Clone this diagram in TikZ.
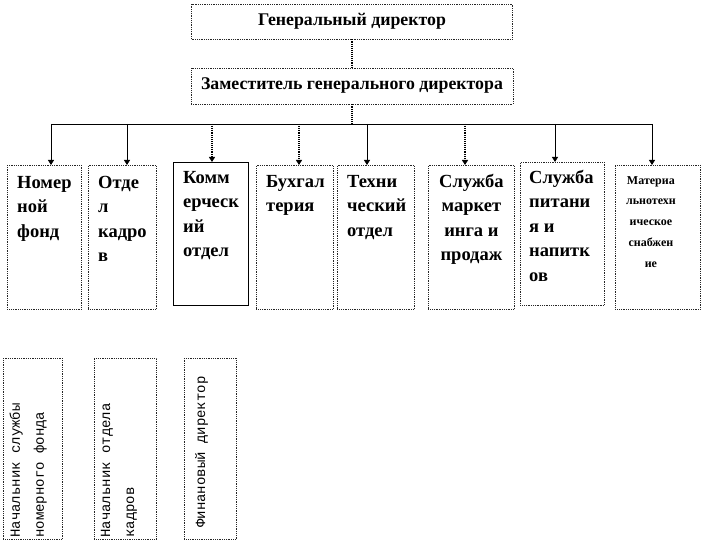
\documentclass[tikz,border=0pt]{standalone}
\usepackage{fontspec}
\setmainfont{Liberation Serif}
\setmonofont{Liberation Mono}
\usetikzlibrary{arrows.meta}
\tikzset{
  frame/.style={draw=black!85, line width=0.8pt, densely dotted, inner sep=0pt, anchor=north west},
  solidframe/.style={draw=black, line width=0.8pt, inner sep=0pt, anchor=north west},
  topbox/.style={draw=black!85, line width=0.8pt, densely dotted, inner sep=0pt,
    font=\fontsize{17.8}{22}\selectfont\bfseries},
  big/.style={font=\fontsize{18.5}{24.5}\selectfont\bfseries, inner sep=0pt, align=left, anchor=north west},
  bigc/.style={font=\fontsize{18.5}{24.5}\selectfont\bfseries, inner sep=0pt, align=center, anchor=north},
  smallc/.style={font=\fontsize{12}{20.75}\selectfont\bfseries, inner sep=0pt, align=center, anchor=north},
  rot/.style={rotate=90, font=\fontsize{14}{24}\selectfont\ttfamily, inner sep=0pt, align=left, anchor=north west},
  link/.style={line width=0.9pt, -{Triangle[width=6pt,length=5pt]}},
  dlink/.style={link, densely dotted, line width=1.1pt},
  dline/.style={densely dotted, line width=1.1pt},
  bus/.style={line width=0.9pt},
}
\begin{document}
\begin{tikzpicture}[x=1pt,y=-1pt]
\useasboundingbox (0,0) rectangle (702,540);

% top boxes
\node[topbox, minimum width=321pt, minimum height=35pt] (gd) at (352,21.5) {Генеральный директор};
\node[topbox, minimum width=322pt, minimum height=36pt] (zam) at (352,86) {Заместитель генерального директора};

% department boxes
\node[frame, minimum width=74pt, minimum height=144pt] (n1) at (7,165) {};
\node[frame, minimum width=68pt, minimum height=144pt] (n2) at (88,165) {};
\node[solidframe, minimum width=75pt, minimum height=143pt] (n3) at (173,162) {};
\node[frame, minimum width=77pt, minimum height=144pt] (n4) at (256,165) {};
\node[frame, minimum width=77pt, minimum height=144pt] (n5) at (337,165) {};
\node[frame, minimum width=86pt, minimum height=144pt] (n6) at (428,165) {};
\node[frame, minimum width=84pt, minimum height=143pt] (n7) at (520,162) {};
\node[frame, minimum width=85pt, minimum height=144pt] (n8) at (615,165) {};

\node[big] (t1) at ([xshift=10pt,yshift=-5.85pt]n1.north west) {\strut Номер\\ной\\фонд};
\node[big] (t2) at ([xshift=10pt,yshift=-5.85pt]n2.north west) {\strut Отде\\л\\кадро\\в};
\node[big] (t3) at ([xshift=10pt,yshift=-3.85pt]n3.north west) {\strut Комм\\ерческ\\ий\\отдел};
\node[big] (t4) at ([xshift=10pt,yshift=-4.85pt]n4.north west) {\strut Бухгал\\терия};
\node[big] (t5) at ([xshift=10pt,yshift=-4.85pt]n5.north west) {\strut Техни\\ческий\\отдел};
\node[bigc] (t6) at ([yshift=-4.85pt]n6.north) {\strut Служба\\маркет\\инга и\\продаж};
\node[big] (t7) at ([xshift=9pt,yshift=-3.85pt]n7.north west) {\strut Служба\\питани\\я и\\напитк\\ов};
\node[smallc] (t8) at ([xshift=-7pt,yshift=-4.5pt]n8.north) {\strut Материа\\льнотехн\\ическое\\снабжен\\ие};

% bottom boxes
\node[frame, minimum width=59pt, minimum height=181pt] (b1) at (3,358) {};
\node[frame, minimum width=62pt, minimum height=181pt] (b2) at (94,358) {};
\node[frame, minimum width=52pt, minimum height=181pt] (b3) at (184,358) {};

\node[rot] (r1) at ([xshift=6.5pt,yshift=2pt]b1.south west) {\rule{0pt}{10pt}Начальник службы\\номерного фонда};
\node[rot] (r2) at ([xshift=6pt,yshift=2pt]b2.south west) {\rule{0pt}{10pt}Начальник отдела\\кадров};
\node[rot] (r3) at ([xshift=11pt,yshift=12pt]b3.south west) {\rule{0pt}{10pt}Финановый директор};

% connectors
\coordinate (j) at (352,124);
\coordinate (a1) at (51,124);
\coordinate (a2) at (127,124);
\coordinate (a3) at (212,124);
\coordinate (a4) at (299,124);
\coordinate (a5) at (367,124);
\coordinate (a6) at (465,124);
\coordinate (a7) at (555,124);
\coordinate (a8) at (652,124);

\draw[dline] (gd.south) -- (zam.north);
\draw[dline] (zam.south) -- (j);
\draw[bus] (a1) -- (a8);
\draw[link] (a1) -- (a1 |- n1.north);
\draw[link] (a2) -- (a2 |- n2.north);
\draw[dlink] (a3) -- (a3 |- n3.north);
\draw[dlink] (a4) -- (a4 |- n4.north);
\draw[link] (a5) -- (a5 |- n5.north);
\draw[dlink] (a6) -- (a6 |- n6.north);
\draw[link] (a7) -- (a7 |- n7.north);
\draw[link] (a8) -- (a8 |- n8.north);
\end{tikzpicture}
\end{document}
